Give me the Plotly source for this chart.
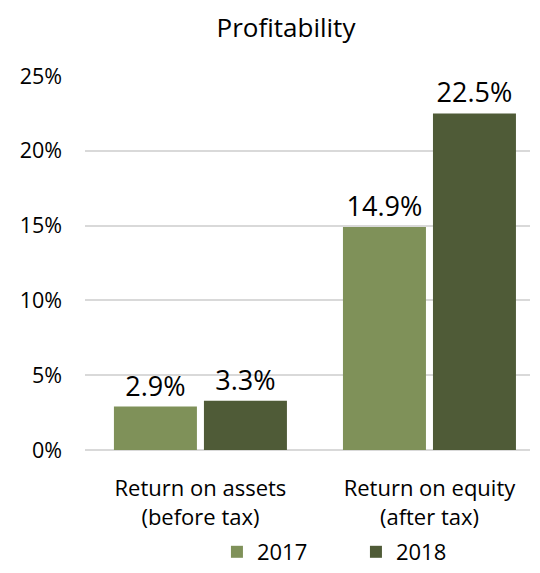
import plotly.graph_objects as go

categories = ["Return on assets<br>(before tax)", "Return on equity<br>(after tax)"]
series_names = ["2017", "2018"]
values_2017 = [2.9, 14.9]
values_2018 = [3.3, 22.5]
y_ticks = [0, 5, 10, 15, 20, 25]
y_tick_labels = ["0%", "5%", "10%", "15%", "20%", "25%"]

colors = ["#7f9159", "#4f5b37"]
font_family = "Open Sans, Noto Sans, sans-serif"

fig = go.Figure()
for name, vals, col in zip(series_names, [values_2017, values_2018], colors):
    fig.add_trace(go.Bar(
        x=[0, 1],
        y=vals,
        name=name,
        marker=dict(color=col, line=dict(width=0)),
        text=[f"{v:.1f}%" for v in vals],
        textposition="outside",
        textfont=dict(size=27, color="#000000", family=font_family),
        cliponaxis=False,
    ))

fig.update_layout(
    width=540,
    height=573,
    margin=dict(l=85, r=10, t=76, b=123, autoexpand=False),
    paper_bgcolor="white",
    plot_bgcolor="white",
    barmode="group",
    bargap=0.214,
    bargroupgap=0.078,
    font=dict(family=font_family, color="#000000"),
    title=dict(
        text="Profitability",
        x=286 / 540,
        xanchor="center",
        y=1 - 28 / 573,
        yanchor="middle",
        font=dict(size=26, color="#000000", family=font_family),
    ),
    showlegend=True,
    legend=dict(
        orientation="h",
        x=0.2965,
        xanchor="left",
        y=-123 / 374,
        yanchor="bottom",
        font=dict(size=22, color="#000000", family=font_family),
        itemwidth=30,
        entrywidth=94,
        traceorder="normal",
        borderwidth=0,
    ),
)

fig.update_xaxes(
    range=[-0.504, 1.439],
    tickmode="array",
    tickvals=[0, 1],
    ticktext=categories,
    tickfont=dict(size=22, color="#000000", family=font_family),
    showgrid=False,
    zeroline=False,
    showline=False,
    ticks="",
    ticklabelstandoff=23,
    automargin=False,
)

fig.update_yaxes(
    range=[0, 25],
    tickmode="array",
    tickvals=y_ticks,
    ticktext=y_tick_labels,
    tickfont=dict(size=21.5, color="#000000", family=font_family),
    showgrid=True,
    gridcolor="#d9d9d9",
    gridwidth=1.5,
    zeroline=True,
    zerolinecolor="#d9d9d9",
    zerolinewidth=1.5,
    showline=False,
    ticks="",
    ticklabelstandoff=22,
    automargin=False,
)

fig.write_html("out.html")
